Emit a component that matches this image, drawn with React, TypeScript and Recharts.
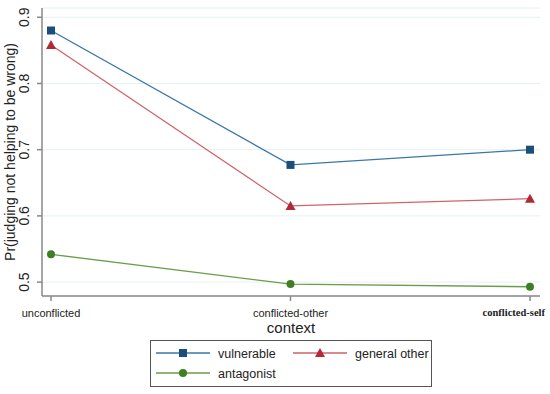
import React from 'react';
import { LineChart, Line, XAxis, YAxis, CartesianGrid } from 'recharts';

const contexts = ['unconflicted', 'conflicted-other', 'conflicted-self'];
const vulnerable = [0.88, 0.677, 0.7];
const generalOther = [0.858, 0.615, 0.626];
const antagonist = [0.542, 0.497, 0.493];
const yTicks = [0.5, 0.6, 0.7, 0.8, 0.9];

const data = contexts.map((c, i) => ({
  context: c,
  vulnerable: vulnerable[i],
  generalOther: generalOther[i],
  antagonist: antagonist[i],
}));

const BLUE_LINE = '#3a76a8';
const BLUE_MARK = '#1b4f7a';
const RED_LINE = '#d0636b';
const RED_MARK = '#b02a35';
const GREEN_LINE = '#6a9e4a';
const GREEN_MARK = '#3f7e23';

const Square = (props: any) => {
  const { cx, cy } = props;
  if (cx == null || cy == null) return null;
  return <rect x={cx - 4} y={cy - 4} width={8} height={8} fill={BLUE_MARK} />;
};

const Triangle = (props: any) => {
  const { cx, cy } = props;
  if (cx == null || cy == null) return null;
  return <polygon points={`${cx},${cy - 5} ${cx - 5},${cy + 4} ${cx + 5},${cy + 4}`} fill={RED_MARK} />;
};

const Dot = (props: any) => {
  const { cx, cy } = props;
  if (cx == null || cy == null) return null;
  return <circle cx={cx} cy={cy} r={4} fill={GREEN_MARK} />;
};

const YTick = (props: any) => {
  const { x, y, payload } = props;
  return (
    <text
      x={x - 6}
      y={y}
      transform={`rotate(-90, ${x - 6}, ${y})`}
      textAnchor="middle"
      fontFamily="Arial, Liberation Sans, sans-serif"
      fontSize={14}
      fill="#222"
    >
      {payload.value.toFixed(1)}
    </text>
  );
};

const XTick = (props: any) => {
  const { x, y, payload, index } = props;
  if (index === 2) {
    return (
      <text x={545} y={y + 13} textAnchor="end" fontFamily="Liberation Serif, serif" fontWeight="bold" fontSize={10.5} fill="#222">
        {payload.value}
      </text>
    );
  }
  return (
    <text x={x} y={y + 14} textAnchor="middle" fontFamily="Arial, Liberation Sans, sans-serif" fontSize={11} fill="#222">
      {payload.value}
    </text>
  );
};

const legendItems = [
  { label: 'vulnerable', line: BLUE_LINE, mark: 'square', x: 6, y: 13 },
  { label: 'general other', line: RED_LINE, mark: 'triangle', x: 143, y: 13 },
  { label: 'antagonist', line: GREEN_LINE, mark: 'circle', x: 6, y: 33 },
];

const ChartLegend = () => (
  <svg width={283} height={48} style={{ display: 'block', position: 'absolute', left: 150, top: 340 }}>
    <rect x={0.5} y={0.5} width={281} height={46} fill="#fff" stroke="#555" strokeWidth={1} />
    {legendItems.map((it) => {
      const cx = it.x + 27;
      return (
        <g key={it.label}>
          <line x1={it.x} y1={it.y} x2={it.x + 54} y2={it.y} stroke={it.line} strokeWidth={1.3} />
          {it.mark === 'square' && <rect x={cx - 4} y={it.y - 4} width={8} height={8} fill={BLUE_MARK} />}
          {it.mark === 'triangle' && (
            <polygon points={`${cx},${it.y - 5} ${cx - 5},${it.y + 4} ${cx + 5},${it.y + 4}`} fill={RED_MARK} />
          )}
          {it.mark === 'circle' && <circle cx={cx} cy={it.y} r={4} fill={GREEN_MARK} />}
          <text x={it.x + 62} y={it.y + 4.5} fontFamily="Arial, Liberation Sans, sans-serif" fontSize={12.5} fill="#222">
            {it.label}
          </text>
        </g>
      );
    })}
  </svg>
);

export default function App() {
  return (
    <div style={{ position: 'absolute', left: 0, top: 0, width: 550, height: 394, background: '#fff' }}>
      <LineChart width={550} height={394} data={data} margin={{ top: 8, right: 10, left: 0, bottom: 68 }}>
        <CartesianGrid horizontal vertical={false} stroke="#e6f1f3" strokeWidth={1} />
        <XAxis
          dataKey="context"
          padding={{ left: 9, right: 10 }}
          height={30}
          stroke="#888"
          strokeWidth={1.5}
          tickSize={5}
          tick={<XTick />}
          label={{ value: 'context', position: 'insideBottom', offset: -7, fontSize: 15, fill: '#222', fontFamily: 'Arial, Liberation Sans, sans-serif' }}
        />
        <YAxis
          type="number"
          domain={[0.479, 0.914]}
          ticks={yTicks}
          allowDataOverflow
          width={42}
          stroke="#888"
          strokeWidth={1.5}
          tickSize={5}
          tick={<YTick />}
          label={{
            value: 'Pr(judging not helping to be wrong)',
            angle: -90,
            position: 'insideLeft',
            offset: 0,
            dx: 10,
            fontSize: 14,
            fill: '#222',
            fontFamily: 'Arial, Liberation Sans, sans-serif',
            style: { textAnchor: 'middle' },
          }}
        />
        <Line dataKey="vulnerable" stroke={BLUE_LINE} strokeWidth={1.3} dot={<Square />} activeDot={false} isAnimationActive={false} />
        <Line dataKey="generalOther" stroke={RED_LINE} strokeWidth={1.3} dot={<Triangle />} activeDot={false} isAnimationActive={false} />
        <Line dataKey="antagonist" stroke={GREEN_LINE} strokeWidth={1.3} dot={<Dot />} activeDot={false} isAnimationActive={false} />
      </LineChart>
      <ChartLegend />
    </div>
  );
}
